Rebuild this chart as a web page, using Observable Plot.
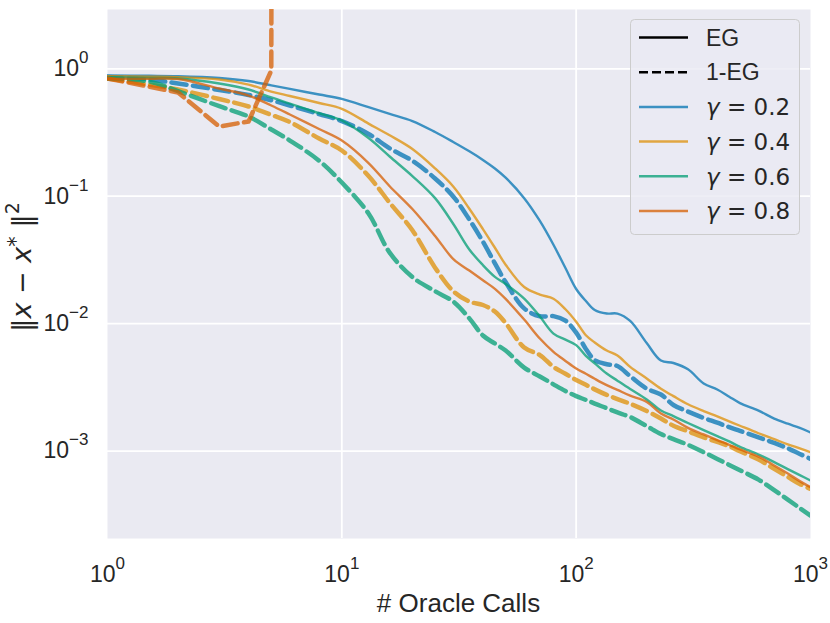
<!DOCTYPE html>
<html><head><meta charset="utf-8">
<script src="https://cdn.jsdelivr.net/npm/d3@7"></script>
<script src="https://cdn.jsdelivr.net/npm/@observablehq/plot@0.6"></script>
<style>
html,body{margin:0;padding:0;background:#fff;}
#chart{width:830px;height:623px;}
</style></head><body><div id="chart"></div>
<script>
// x grid (number of oracle calls)
const calls = [1,1.5,2,3,4,5,6,8,10,13,16,20,25,30,35,40,45,50,60,70,80,90,100,110,120,135,150,170,200,230,260,300,350,400,450,500,600,700,800,900,1000];

// EG (solid)
const eg02 = [0.886,0.881,0.875,0.847,0.802,0.742,0.695,0.628,0.581,0.50,0.443,0.389,0.319,0.2653,0.2251,0.1927,0.1650,0.1397,0.0966,0.0640,0.0416,0.0273,0.0187,0.01505,0.01279,0.0120,0.0120,0.0105,0.00704,0.00513,0.00491,0.00438,0.00339,0.00304,0.00267,0.00238,0.00208,0.00180,0.00164,0.00152,0.00140];
const eg04 = [0.875,0.867,0.859,0.824,0.752,0.663,0.612,0.539,0.485,0.3715,0.3006,0.2347,0.1653,0.1183,0.0798,0.0552,0.0394,0.0290,0.01938,0.01689,0.01569,0.01297,0.01035,0.00811,0.00712,0.00615,0.00562,0.00458,0.00371,0.00308,0.00270,0.00233,0.00206,0.00187,0.00171,0.00158,0.00138,0.00124,0.00113,0.00105,0.00098];
const eg06 = [0.859,0.847,0.839,0.767,0.688,0.596,0.534,0.448,0.393,0.286,0.205,0.144,0.0966,0.0600,0.0382,0.0288,0.0233,0.0205,0.01574,0.01137,0.00836,0.00749,0.00678,0.00559,0.00488,0.00406,0.00357,0.00307,0.00254,0.00208,0.00188,0.00166,0.00146,0.00131,0.00119,0.00108,0.000939,0.000820,0.000722,0.000648,0.000587];
const eg08 = [0.835,0.835,0.832,0.700,0.617,0.515,0.438,0.337,0.2736,0.1822,0.1198,0.0793,0.0488,0.0319,0.0261,0.0219,0.01876,0.01563,0.01077,0.00764,0.00601,0.00510,0.00444,0.00404,0.00369,0.00329,0.00302,0.00272,0.00243,0.00197,0.00177,0.00152,0.00135,0.00122,0.00112,0.00103,0.000905,0.000771,0.000666,0.000581,0.000520];

// 1-EG (dashed)
const oneEg02 = [0.862,0.824,0.767,0.682,0.623,0.566,0.515,0.441,0.389,0.308,0.2377,0.1896,0.1379,0.0986,0.0656,0.0440,0.0297,0.0212,0.01318,0.01143,0.01145,0.01055,0.00851,0.00633,0.00518,0.00480,0.00465,0.00387,0.00309,0.00278,0.00230,0.00204,0.00182,0.00167,0.00154,0.00144,0.00128,0.00116,0.00105,0.000949,0.000869];
const oneEg04 = [0.839,0.753,0.688,0.579,0.506,0.435,0.382,0.2837,0.2284,0.1441,0.0889,0.0541,0.0275,0.01786,0.01491,0.01400,0.01245,0.01011,0.00649,0.00567,0.00458,0.00404,0.00361,0.00331,0.00305,0.00276,0.00256,0.00235,0.00206,0.00180,0.00158,0.00143,0.00128,0.00118,0.00109,0.000996,0.000858,0.000726,0.000627,0.000552,0.000505];
const oneEg06 = [0.839,0.795,0.667,0.509,0.422,0.334,0.2736,0.190,0.128,0.0731,0.0361,0.02321,0.01796,0.01483,0.01100,0.00807,0.00698,0.00615,0.00452,0.00385,0.00334,0.00296,0.00270,0.00252,0.00236,0.00217,0.00201,0.00185,0.00157,0.00136,0.00124,0.00112,0.000980,0.000867,0.000779,0.000707,0.000597,0.000494,0.000416,0.000357,0.000312];
// γ=0.8 1-EG diverges after 5 calls
const calls08 = [1,1.5,2,3,4,5,5.03];
const oneEg08 = [0.839,0.726,0.652,0.352,0.386,0.97,1000];

const gammas = ["0.2","0.4","0.6","0.8"];
const colors = ["#0173b2","#de8f05","#029e73","#d55e00"];
const methods = ["EG","1-EG"];
const xTicks = [1,10,100,1000];
const xTickExp = ["0","1","2","3"];
const yTicks = [1,0.1,0.01,0.001];
const yTickExp = ["0","\u22121","\u22122","\u22123"];
const xLabel = "# Oracle Calls";

const series = [
  {gamma:"0.2", method:"EG", xs:calls, ys:eg02},
  {gamma:"0.2", method:"1-EG", xs:calls, ys:oneEg02},
  {gamma:"0.4", method:"EG", xs:calls, ys:eg04},
  {gamma:"0.4", method:"1-EG", xs:calls, ys:oneEg04},
  {gamma:"0.6", method:"EG", xs:calls, ys:eg06},
  {gamma:"0.6", method:"1-EG", xs:calls, ys:oneEg06},
  {gamma:"0.8", method:"EG", xs:calls, ys:eg08},
  {gamma:"0.8", method:"1-EG", xs:calls08, ys:oneEg08}
];

const lineMarks = series.map(s => {
  const data = s.xs.map((x,i) => ({x, y:s.ys[i], gamma:s.gamma}));
  const dashed = s.method === "1-EG";
  return Plot.line(data, {
    x:"x", y:"y", stroke:"gamma", strokeOpacity:0.75,
    strokeWidth: dashed ? 4.5 : 2.4,
    strokeDasharray: dashed ? "15,6.5" : null,
    curve: (s.gamma==="0.8" && dashed) ? "linear" : "catmull-rom",
    clip: true
  });
});

const svg = Plot.plot({
  width: 830, height: 623,
  marginTop: 9, marginRight: 20, marginBottom: 85, marginLeft: 107,
  style: {fontFamily: "'Liberation Sans', Arial, sans-serif", fontSize: "23px", color: "#262626", background: "#fff"},
  x: {type:"log", domain:[1,1000]},
  y: {type:"log", domain:[2.06e-4, 2.92]},
  color: {domain: gammas, range: colors},
  marks: [
    Plot.frame({fill:"#eaeaf2", stroke:"none"}),
    Plot.gridX([10,100], {stroke:"#fff", strokeOpacity:1, strokeWidth:1.8}),
    Plot.gridY(yTicks, {stroke:"#fff", strokeOpacity:1, strokeWidth:1.8}),
    ...lineMarks,
    Plot.axisX(xTicks, {tickSize:0, tickPadding:27, label:null, fontSize:23,
      tickFormat: d => "10^" + xTickExp[xTicks.indexOf(d)]}),
    Plot.axisY(yTicks, {tickSize:0, tickPadding:19, label:null, fontSize:23,
      tickFormat: d => "10^" + yTickExp[yTicks.indexOf(d)]})
  ]
});

const root = d3.select(svg);
// superscript exponents on tick labels
root.selectAll('g[aria-label="x-axis tick label"] text, g[aria-label="y-axis tick label"] text').each(function(){
  const parts = this.textContent.split("^");
  const t = d3.select(this);
  t.text(null);
  t.append("tspan").text(parts[0]);
  t.append("tspan").attr("dy", -13).attr("font-size", "17px").text(parts[1]);
});

// axis labels
root.append("text")
  .attr("x", (107 + 810) / 2).attr("y", 612)
  .attr("text-anchor", "middle").attr("font-size", "26px").attr("fill", "#262626")
  .text(xLabel);

const yl = root.append("text")
  .attr("transform", "translate(31,267) rotate(-90)")
  .attr("text-anchor", "middle").attr("font-size", "27px").attr("fill", "#262626")
  .attr("font-family", "'DejaVu Sans', sans-serif");
yl.append("tspan").text("\u2016");
yl.append("tspan").attr("font-style", "italic").text("x");
yl.append("tspan").text(" \u2212 ");
yl.append("tspan").attr("font-style", "italic").text("x");
yl.append("tspan").attr("dy", -8).attr("font-size", "21px").text("*");
yl.append("tspan").attr("dy", 8).text(" \u2016");
yl.append("tspan").attr("dy", -12).attr("font-size", "19px").text("2");

// legend
const lg = root.append("g");
lg.append("rect").attr("x", 630.5).attr("y", 19.5).attr("width", 169).attr("height", 215)
  .attr("rx", 4).attr("fill", "#eaeaf2").attr("fill-opacity", 0.8)
  .attr("stroke", "#cccccc").attr("stroke-width", 1);
const entries = [
  {label: methods[0], color: "#000", dash: null, opacity: 1, math: false},
  {label: methods[1], color: "#000", dash: "9,4", opacity: 1, math: false},
  ...gammas.map((g,i) => ({label: g, color: colors[i], dash: null, opacity: 0.75, math: true}))
];
entries.forEach((e, i) => {
  const cy = 37.5 + i * 34.7;
  lg.append("line").attr("x1", 639).attr("x2", 688).attr("y1", cy).attr("y2", cy)
    .attr("stroke", e.color).attr("stroke-opacity", e.opacity).attr("stroke-width", 2.5)
    .attr("stroke-dasharray", e.dash);
  const t = lg.append("text").attr("x", 706).attr("y", cy + 8.2)
    .attr("text-anchor", "start")
    .attr("font-size", "23px").attr("fill", "#262626");
  if (e.math) {
    t.attr("font-family", "'DejaVu Sans', sans-serif");
    t.append("tspan").attr("font-style", "italic").text("\u03b3");
    t.append("tspan").text(" = " + e.label);
  } else {
    t.text(e.label);
  }
});

document.getElementById("chart").appendChild(svg);
</script>
</body></html>
